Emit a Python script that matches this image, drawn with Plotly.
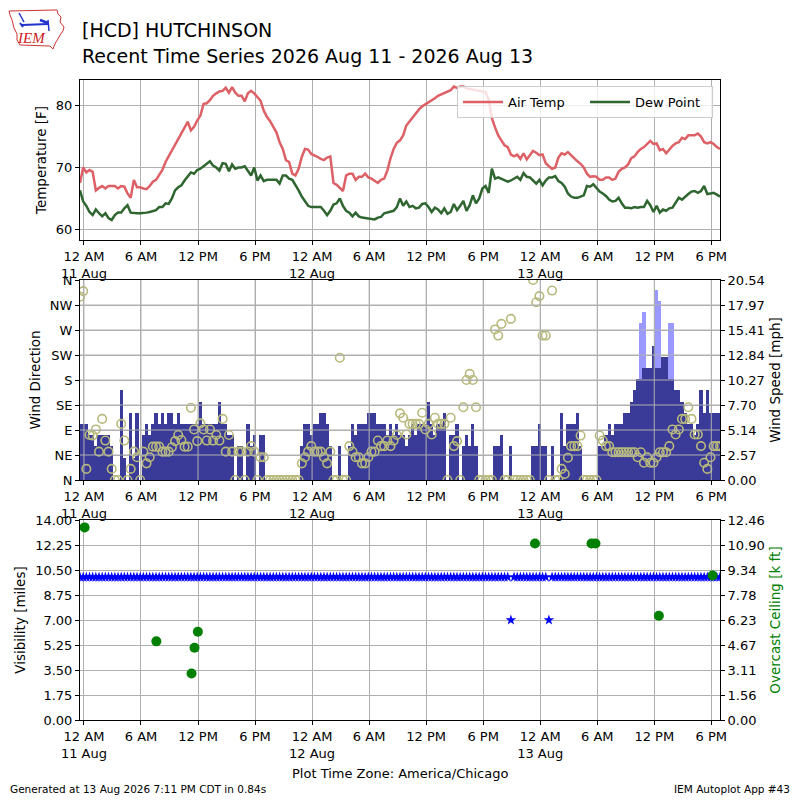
import plotly.graph_objects as go
import pandas as pd

# ---------------- data ----------------
# observation times (every 20 minutes, :15 :35 :55)
obs_times = pd.date_range("2026-08-10 23:35", "2026-08-13 18:55", freq="20min")

air_temp_f = [
    67.5, 70.0, 69.2, 69.6, 69.3, 66.3, 66.7, 67.0, 66.6, 67.0, 67.0, 67.0,
    66.6, 67.0, 66.9, 65.8, 65.1, 68.0, 66.8, 66.8, 66.6, 66.5, 67.0, 67.7,
    68.0, 68.7, 69.6, 70.9, 71.8, 72.8, 73.7, 74.6, 75.4, 76.5, 77.4, 76.0,
    76.6, 77.6, 78.4, 80.3, 80.4, 80.9, 81.6, 82.0, 82.3, 82.4, 82.9, 82.1,
    83.0, 82.1, 81.6, 81.6, 80.7, 82.0, 82.4, 82.0, 81.4, 80.8, 79.2, 78.2,
    77.5, 76.6, 75.7, 74.1, 73.0, 71.2, 70.9, 69.0, 68.7, 69.8, 71.7, 73.0,
    72.9, 72.2, 72.0, 71.7, 71.4, 71.2, 71.6, 71.8, 67.5, 67.2, 66.7, 66.2,
    68.7, 69.0, 69.0, 68.0, 68.5, 68.5, 69.0, 68.4, 68.2, 67.9, 67.5, 68.0,
    68.2, 69.5, 71.5, 73.0, 74.0, 74.4, 75.2, 76.8, 77.5, 78.0, 78.7, 79.4,
    79.9, 80.2, 80.5, 80.8, 81.2, 81.6, 81.8, 82.0, 82.3, 82.5, 83.1, 82.9,
    83.1, 83.1, 82.8, 82.7, 82.5, 82.5, 82.3, 82.3, 82.2, 81.0, 78.0, 76.5,
    75.2, 74.4, 73.6, 73.3, 72.1, 71.8, 72.1, 71.4, 72.3, 71.3, 72.1, 72.7,
    72.4, 72.0, 72.1, 70.7, 70.2, 69.8, 70.0, 71.6, 72.3, 72.1, 72.5, 72.0,
    71.4, 71.0, 70.6, 70.0, 69.0, 68.5, 68.6, 68.5, 68.0, 68.0, 68.4, 68.4,
    68.0, 68.2, 69.3, 69.8, 70.0, 70.5, 71.5, 71.8, 72.5, 73.0, 73.3, 73.8,
    74.3, 73.8, 73.9, 72.8, 73.0, 72.3, 73.0, 73.5, 73.9, 74.1, 74.8, 74.6,
    75.2, 75.2, 75.2, 75.5, 75.0, 74.1, 73.9, 74.1, 73.8, 73.3, 73.0,
]

dew_point_f = [
    66.3, 64.5, 63.8, 62.8, 62.3, 63.2, 62.6, 62.1, 62.6, 61.8, 61.5, 62.3,
    62.7, 62.7, 63.4, 63.9, 62.7, 62.6, 62.6, 62.6, 62.6, 62.7, 62.8, 63.0,
    63.1, 63.6, 63.6, 64.2, 64.1, 65.0, 66.3, 66.8, 67.1, 67.9, 68.6, 69.2,
    69.0, 69.6, 69.8, 70.2, 70.7, 71.0, 70.3, 70.0, 69.5, 70.7, 70.6, 69.4,
    70.5, 69.8, 70.0, 70.0, 70.2, 69.5, 68.7, 70.0, 67.9, 68.7, 67.8, 68.0,
    68.0, 68.0, 68.0, 67.4, 68.7, 68.7, 68.2, 68.0, 67.2, 66.3, 65.3, 64.5,
    63.8, 63.6, 63.6, 63.5, 63.6, 63.0, 62.3, 63.0, 64.0, 64.2, 65.0, 63.8,
    63.0, 62.7, 62.1, 62.7, 62.1, 61.9, 61.8, 61.8, 61.6, 61.6, 61.9, 62.0,
    62.6, 62.7, 62.8, 63.0, 63.6, 65.0, 63.8, 64.5, 63.6, 63.8, 63.4, 63.5,
    64.1, 64.2, 63.6, 62.8, 63.5, 63.2, 62.6, 63.4, 62.5, 62.8, 64.1, 63.1,
    63.8, 64.6, 63.0, 63.9, 65.5, 64.2, 65.0, 66.6, 67.0, 65.9, 69.8, 68.2,
    68.4, 68.2, 67.9, 67.7, 67.9, 68.2, 68.5, 68.0, 69.1, 68.5, 68.4, 67.9,
    67.4, 68.0, 67.1, 67.9, 68.4, 68.4, 68.6, 67.8, 67.5, 66.9, 65.8, 65.3,
    65.1, 65.1, 65.3, 65.5, 67.0, 66.9, 67.3, 66.6, 66.1, 65.8, 65.4, 64.8,
    64.5, 64.6, 65.1, 64.2, 63.5, 63.5, 63.4, 63.6, 63.5, 63.6, 63.6, 64.6,
    63.9, 62.8, 63.8, 62.7, 63.2, 63.0, 63.4, 63.5, 64.3, 65.1, 64.8, 65.3,
    65.7, 66.1, 66.2, 65.9, 66.2, 67.0, 65.7, 65.8, 65.9, 65.6, 65.3,
]

wind_dir_deg = [
    330, 340, 20, 81, 80, 91, 51, 110, 71, 51, 20, 0,
    0, 101, 71, 0, 20, 51, 41, 0, 51, 30, 41, 60,
    60, 60, 51, 51, 51, 59, 70, 81, 72, 60, 60, 130,
    91, 70, 102, 91, 71, 91, 71, 81, 71, 110, 51, 81,
    51, 0, 51, 51, 0, 51, 61, 51, 0, 41, 41, 0,
    0, 0, 0, 0, 0, 0, 0, 0, 0, 0, 30, 41,
    51, 61, 51, 51, 51, 41, 30, 51, 0, 0, 220, 0,
    0, 61, 51, 41, 41, 30, 30, 41, 51, 51, 71, 61,
    61, 71, 61, 71, 81, 120, 112, 82, 101, 101, 101, 101,
    121, 91, 101, 82, 112, 101, 101, 101, 0, 112, 61, 70,
    0, 131, 180, 191, 180, 131, 0, 0, 0, 0, 0, 271,
    260, 281, 0, 0, 290, 0, 0, 0, 0, 0, 0, 360,
    320, 331, 260, 260, 0, 341, 0, 0, 20, 11, 40, 61,
    61, 61, 80, 0, 0, 0, 0, 0, 80, 71, 61, 61,
    50, 50, 50, 50, 50, 50, 50, 50, 41, 50, 31, 41,
    31, 31, 41, 50, 50, 50, 61, 91, 82, 91, 110, 110,
    131, 110, 82, 82, 61, 31, 20, 41, 61, 61, 61,
]

wind_speed_kt = [
    5, 5, 5, 4, 4, 3, 4, 4, 4, 4, 3, 0,
    0, 8, 2, 0, 6, 2, 6, 0, 4, 5, 4, 5,
    6, 5, 6, 5, 6, 6, 5, 6, 5, 5, 5, 5,
    5, 5, 7, 5, 5, 5, 5, 5, 7, 5, 5, 4,
    4, 0, 3, 3, 0, 5, 3, 4, 0, 4, 4, 0,
    0, 0, 0, 0, 0, 0, 0, 0, 0, 0, 3, 5,
    5, 4, 5, 5, 6, 6, 5, 3, 0, 0, 3, 0,
    0, 3, 5, 4, 5, 5, 5, 6, 6, 6, 5, 5,
    5, 4, 5, 4, 5, 4, 4, 3, 4, 5, 4, 5,
    5, 5, 7, 5, 4, 5, 5, 6, 0, 4, 4, 5,
    0, 3, 4, 3, 5, 3, 0, 0, 0, 0, 0, 3,
    3, 4, 0, 0, 3, 0, 0, 0, 0, 0, 0, 3,
    3, 5, 3, 3, 0, 3, 0, 0, 6, 3, 5, 5,
    5, 6, 3, 0, 0, 0, 0, 0, 3, 3, 4, 5,
    4, 5, 5, 5, 6, 6, 7, 8, 9, 9, 10, 10,
    10, 12, 10, 10, 11, 11, 9, 9, 8, 8, 7, 6,
    5, 5, 4, 5, 8, 6, 8, 6, 6, 6, 6,
]

gust_times = ["2026-08-13 10:35", "2026-08-13 10:55", "2026-08-13 12:15",
              "2026-08-13 12:35", "2026-08-13 13:35", "2026-08-13 13:55"]
gust_kt = [14, 15, 17, 16, 14, 14]

visibility_mi = [
    10, 10, 10, 10, 10, 10, 10, 10, 10, 10, 10, 10,
    10, 10, 10, 10, 10, 10, 10, 10, 10, 10, 10, 10,
    10, 10, 10, 10, 10, 10, 10, 10, 10, 10, 10, 10,
    10, 10, 10, 10, 10, 10, 10, 10, 10, 10, 10, 10,
    10, 10, 10, 10, 10, 10, 10, 10, 10, 10, 10, 10,
    10, 10, 10, 10, 10, 10, 10, 10, 10, 10, 10, 10,
    10, 10, 10, 10, 10, 10, 10, 10, 10, 10, 10, 10,
    10, 10, 10, 10, 10, 10, 10, 10, 10, 10, 10, 10,
    10, 10, 10, 10, 10, 10, 10, 10, 10, 10, 10, 10,
    10, 10, 10, 10, 10, 10, 10, 10, 10, 10, 10, 10,
    10, 10, 10, 10, 10, 10, 10, 10, 10, 10, 10, 10,
    10, 10, 10, 10, 7, 10, 10, 10, 10, 10, 10, 10,
    10, 10, 10, 10, 7, 10, 10, 10, 10, 10, 10, 10,
    10, 10, 10, 10, 10, 10, 10, 10, 10, 10, 10, 10,
    10, 10, 10, 10, 10, 10, 10, 10, 10, 10, 10, 10,
    10, 10, 10, 10, 10, 10, 10, 10, 10, 10, 10, 10,
    10, 10, 10, 10, 10, 10, 10, 10, 10, 10, 10,
]

ceiling_times = ["2026-08-11 00:04", "2026-08-11 07:37", "2026-08-11 11:19",
                 "2026-08-11 11:38", "2026-08-11 11:59", "2026-08-12 23:27",
                 "2026-08-13 05:24", "2026-08-13 05:49", "2026-08-13 12:29",
                 "2026-08-13 18:08"]
ceiling_kft = [12.0, 4.9, 2.9, 4.5, 5.5, 11.0, 11.0, 11.0, 6.5, 9.0]

x_tickvals = ["2026-08-11 00:00", "2026-08-11 06:00", "2026-08-11 12:00", "2026-08-11 18:00",
              "2026-08-12 00:00", "2026-08-12 06:00", "2026-08-12 12:00", "2026-08-12 18:00",
              "2026-08-13 00:00", "2026-08-13 06:00", "2026-08-13 12:00", "2026-08-13 18:00"]
x_ticktext = ["12 AM<br>11 Aug", "6 AM", "12 PM", "6 PM",
              "12 AM<br>12 Aug", "6 AM", "12 PM", "6 PM",
              "12 AM<br>13 Aug", "6 AM", "12 PM", "6 PM"]
dir_ticktext = ["N", "NE", "E", "SE", "S", "SW", "W", "NW", "N"]
speed_ticktext = ["0.00", "2.57", "5.14", "7.70", "10.27", "12.84", "15.41", "17.97", "20.54"]
vis_ticktext = ["0.00", "1.75", "3.50", "5.25", "7.00", "8.75", "10.50", "12.25", "14.00"]
ceil_ticktext = ["0.00", "1.56", "3.11", "4.67", "6.23", "7.78", "9.34", "10.90", "12.46"]

KT2MPH = 1.150779
wind_speed_mph = [v * KT2MPH for v in wind_speed_kt]
gust_mph = [v * KT2MPH for v in gust_kt]

# ---------------- styling ----------------
FONT = "DejaVu Sans"
GRID = "#b0b0b0"
RED = "#dd6066"
GREEN = "#2f6630"
BAR = "#3a3a98"
GUST = "#9999ff"
CIRC = "#b8b97c"
XRANGE = ["2026-08-10 23:35", "2026-08-13 18:55"]
SPEED_MAX = 20.54
CEIL_MAX = 12.46

fig = go.Figure()

# top panel
fig.add_trace(go.Scatter(x=obs_times, y=air_temp_f, mode="lines", name="Air Temp",
                         line=dict(color=RED, width=2.5), xaxis="x", yaxis="y"))
fig.add_trace(go.Scatter(x=obs_times, y=dew_point_f, mode="lines", name="Dew Point",
                         line=dict(color=GREEN, width=2.5), xaxis="x", yaxis="y"))

# middle panel: gust + speed bars (base axis y2), direction circles (overlay y3)
fig.add_trace(go.Bar(x=pd.to_datetime(gust_times), y=gust_mph, width=20 * 60 * 1000,
                     marker=dict(color=GUST, line=dict(width=0)), showlegend=False,
                     xaxis="x2", yaxis="y2"))
fig.add_trace(go.Bar(x=obs_times, y=wind_speed_mph, width=20 * 60 * 1000,
                     marker=dict(color=BAR, line=dict(width=0)), showlegend=False,
                     xaxis="x2", yaxis="y2"))
fig.add_trace(go.Scatter(x=obs_times, y=wind_dir_deg, mode="markers", showlegend=False,
                         marker=dict(symbol="circle-open", size=8.5, color=CIRC,
                                     line=dict(width=1.6, color=CIRC)),
                         xaxis="x2", yaxis="y3"))

# bottom panel
fig.add_trace(go.Scatter(x=obs_times, y=visibility_mi, mode="markers", showlegend=False,
                         marker=dict(symbol="star", size=8, color="blue",
                                     line=dict(width=0)),
                         xaxis="x3", yaxis="y4"))
fig.add_trace(go.Scatter(x=pd.to_datetime(ceiling_times), y=ceiling_kft, mode="markers",
                         showlegend=False, marker=dict(symbol="circle", size=10, color="green"),
                         xaxis="x3", yaxis="y5"))

tickfont = dict(family=FONT, size=13, color="black")


def xax(anchor):
    return dict(anchor=anchor, domain=[0, 1], type="date", range=XRANGE,
                tickmode="array", tickvals=x_tickvals, ticktext=x_ticktext,
                showgrid=True, gridcolor=GRID, gridwidth=1,
                showline=True, linecolor="black", linewidth=1, mirror=True,
                ticks="outside", ticklen=4, tickcolor="black", tickfont=tickfont,
                zeroline=False)


def yax(domain, anchor, rng, tickvals, ticktext, title, side="left", grid=True,
        overlaying=None, title_color="black"):
    d = dict(domain=domain, anchor=anchor, range=rng, tickmode="array",
             tickvals=tickvals, ticktext=ticktext, side=side,
             showgrid=grid, gridcolor=GRID, gridwidth=1,
             showline=True, linecolor="black", linewidth=1, mirror=True,
             ticks="outside", ticklen=4, tickcolor="black", tickfont=tickfont,
             zeroline=False,
             title=dict(text=title, font=dict(family=FONT, size=13.5, color=title_color),
                        standoff=6))
    if overlaying:
        d["overlaying"] = overlaying
        d.pop("domain")
    return d


speed_ticks = [SPEED_MAX * j / 8 for j in range(9)]
dir_ticks = [45 * j for j in range(9)]
vis_ticks = [1.75 * j for j in range(9)]
ceil_ticks = [CEIL_MAX * j / 8 for j in range(9)]


def px(x):
    return (x - 80) / 640


def py(y):
    return (720 - y) / 640


fig.update_layout(
    width=800, height=800,
    margin=dict(l=80, r=80, t=80, b=80),
    paper_bgcolor="white", plot_bgcolor="white",
    font=dict(family=FONT, size=13, color="black"),
    barmode="overlay", bargap=0,
    xaxis=xax("y"),
    yaxis=yax([0.75, 1.0], "x", [58.27, 84.16], [60, 70, 80], ["60", "70", "80"],
              "Temperature [F]"),
    xaxis2=xax("y2"),
    yaxis2=yax([0.375, 0.6875], "x2", [0, SPEED_MAX], speed_ticks, speed_ticktext,
               "Wind Speed [mph]", side="right"),
    yaxis3=yax(None, "x2", [0, 360], dir_ticks, dir_ticktext, "Wind Direction",
               side="left", grid=False, overlaying="y2"),
    xaxis3=xax("y4"),
    yaxis4=yax([0.0, 0.3125], "x3", [0, 14], vis_ticks, vis_ticktext,
               "Visibility [miles]"),
    yaxis5=yax(None, "x3", [0, CEIL_MAX], ceil_ticks, ceil_ticktext,
               "Overcast Ceiling [k ft]", side="right", grid=False, overlaying="y4",
               title_color="green"),
    legend=dict(orientation="h", x=px(713), y=py(86), xanchor="right", yanchor="top",
                bgcolor="rgba(255,255,255,0.8)", bordercolor="#cccccc", borderwidth=1,
                font=dict(family=FONT, size=13, color="black"), itemwidth=40,
                entrywidth=72, entrywidthmode="pixels"),
    showlegend=True,
)

shapes = []
# grid drawn above the bars in the wind panel (like matplotlib)
for v in speed_ticks[1:-1]:
    shapes.append(dict(type="line", xref="x2 domain", yref="y2", x0=0, x1=1, y0=v, y1=v,
                       line=dict(color=GRID, width=1), layer="above"))
for t in x_tickvals:
    shapes.append(dict(type="line", xref="x2", yref="y2 domain", x0=t, x1=t, y0=0, y1=1,
                       line=dict(color=GRID, width=1), layer="above"))

# IEM logo (simple sketch)
iowa = [(9, 11), (57, 10), (58, 14), (61, 17), (60, 22), (64, 27), (63, 31), (60, 35),
        (58, 39), (56, 42), (54, 46), (53, 49), (50, 46), (20, 45), (17, 40), (17, 34),
        (14, 28), (12, 20), (10, 15)]
path = "M " + " L ".join(f"{px(a):.4f},{py(b):.4f}" for a, b in iowa) + " Z"
shapes.append(dict(type="path", xref="paper", yref="paper", path=path,
                   line=dict(color="#cc3333", width=1), fillcolor="rgba(0,0,0,0)"))
for (a, b, c, d, w) in [(22, 25, 48, 24, 2), (19, 13, 24, 22, 1.5), (40, 20, 48, 23, 2.5),
                        (48, 20, 49, 31, 1.5), (20, 23, 23, 27, 2)]:
    shapes.append(dict(type="line", xref="paper", yref="paper", x0=px(a), y0=py(b),
                       x1=px(c), y1=py(d), line=dict(color="#2233cc", width=w)))
fig.update_layout(shapes=shapes)

annotations = [
    dict(text="[HCD] HUTCHINSON", x=px(80), y=py(30), xref="paper", yref="paper",
         xanchor="left", yanchor="middle", showarrow=False,
         font=dict(family=FONT, size=19, color="black")),
    dict(text="Recent Time Series 2026 Aug 11 - 2026 Aug 13", x=px(80), y=py(56),
         xref="paper", yref="paper", xanchor="left", yanchor="middle", showarrow=False,
         font=dict(family=FONT, size=19, color="black")),
    dict(text="<i>IEM</i>", x=px(31), y=py(38), xref="paper", yref="paper",
         xanchor="center", yanchor="middle", showarrow=False,
         font=dict(family="Liberation Serif", size=15, color="#cc2222")),
    dict(text="Plot Time Zone: America/Chicago", x=0.5, y=py(773), xref="paper",
         yref="paper", xanchor="center", yanchor="middle", showarrow=False,
         font=dict(family=FONT, size=13, color="black")),
    dict(text="Generated at 13 Aug 2026 7:11 PM CDT in 0.84s", x=px(8), y=py(789),
         xref="paper", yref="paper", xanchor="left", yanchor="middle", showarrow=False,
         font=dict(family=FONT, size=10.5, color="black")),
    dict(text="IEM Autoplot App #43", x=px(792), y=py(789), xref="paper", yref="paper",
         xanchor="right", yanchor="middle", showarrow=False,
         font=dict(family=FONT, size=10.5, color="black")),
]
fig.update_layout(annotations=annotations)

fig.write_html("out.html", config={"displayModeBar": False},
               post_script="document.body.style.margin='0px';document.body.style.padding='0px';")
